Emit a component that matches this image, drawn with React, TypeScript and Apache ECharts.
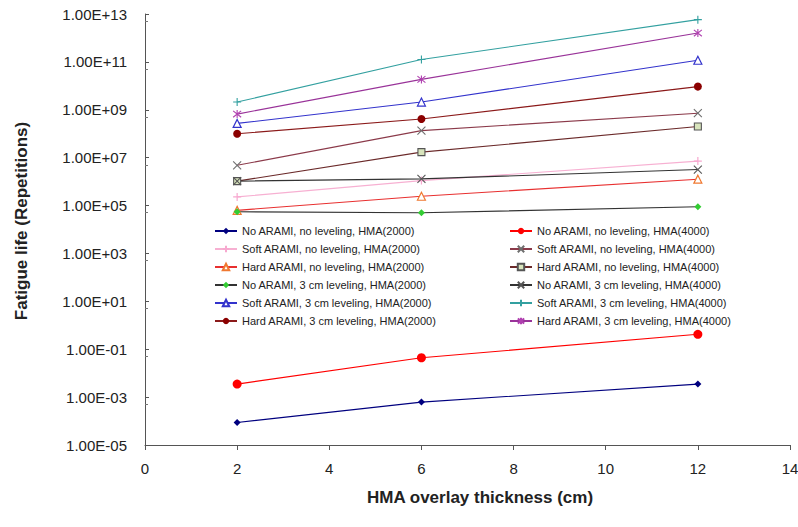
import React, { useEffect, useRef } from "react";
import * as echarts from "echarts";

// HMA overlay thickness (cm)
const xValues = [2, 6, 12];

// Fatigue life (repetitions) per series, read at x = 2, 6, 12
const noAramiNoLev2000 = [8.7e-5, 6.2e-4, 3.5e-3];
const noAramiNoLev4000 = [3.5e-3, 4.4e-2, 0.42];
const softAramiNoLev2000 = [2.3e5, 1.1e6, 7.2e6];
const softAramiNoLev4000 = [4.8e6, 1.35e8, 7.2e8];
const hardAramiNoLev2000 = [6.3e4, 2.45e5, 1.26e6];
const hardAramiNoLev4000 = [1.05e6, 1.7e7, 2.0e8];
const noArami3cm2000 = [5.5e4, 5.0e4, 8.9e4];
const noArami3cm4000 = [1.05e6, 1.3e6, 3.2e6];
const softArami3cm2000 = [2.7e8, 2.1e9, 1.17e11];
const softArami3cm4000 = [2.1e9, 1.26e11, 5.8e12];
const hardArami3cm2000 = [1.0e8, 4.1e8, 9.3e9];
const hardArami3cm4000 = [6.6e8, 1.86e10, 1.6e12];

const names = [
  "No ARAMI, no leveling, HMA(2000)",
  "No ARAMI, no leveling, HMA(4000)",
  "Soft ARAMI, no leveling, HMA(2000)",
  "Soft ARAMI, no leveling, HMA(4000)",
  "Hard ARAMI, no leveling, HMA(2000)",
  "Hard ARAMI, no leveling, HMA(4000)",
  "No ARAMI, 3 cm leveling, HMA(2000)",
  "No ARAMI, 3 cm leveling, HMA(4000)",
  "Soft ARAMI, 3 cm leveling, HMA(2000)",
  "Soft ARAMI, 3 cm leveling, HMA(4000)",
  "Hard ARAMI, 3 cm leveling, HMA(2000)",
  "Hard ARAMI, 3 cm leveling, HMA(4000)",
];

const yTickLabelFormat = (v: number) => {
  const e = Math.round(Math.log10(v));
  return "1.00E" + (e >= 0 ? "+" : "-") + String(Math.abs(e)).padStart(2, "0");
};

const X_PATH = "path://M0,0L10,10M10,0L0,10";
const PLUS_PATH = "path://M5,0L5,10M0,5L10,5";
const STAR_PATH = "path://M5,0L5,10M1,1L9,9M9,1L1,9";

type Spec = {
  values: number[];
  line: string;
  symbol: string;
  size: number;
  fill: string;
  border: string;
  bw: number;
};

const specs: Spec[] = [
  { values: noAramiNoLev2000, line: "#00007F", symbol: "diamond", size: 7, fill: "#00007F", border: "#00007F", bw: 0 },
  { values: noAramiNoLev4000, line: "#FF0000", symbol: "circle", size: 9, fill: "#FF0000", border: "#FF0000", bw: 0 },
  { values: softAramiNoLev2000, line: "#F7B0D2", symbol: PLUS_PATH, size: 8, fill: "#ffffff", border: "#F7A8CF", bw: 1.2 },
  { values: softAramiNoLev4000, line: "#8B3A4A", symbol: X_PATH, size: 8, fill: "#ffffff", border: "#6E6E6E", bw: 1.1 },
  { values: hardAramiNoLev2000, line: "#E83030", symbol: "triangle", size: 8, fill: "#ffffff", border: "#F07830", bw: 1.2 },
  { values: hardAramiNoLev4000, line: "#6B2A2A", symbol: "rect", size: 7, fill: "#D8E4BC", border: "#555555", bw: 1.1 },
  { values: noArami3cm2000, line: "#333333", symbol: "diamond", size: 7, fill: "#33CC33", border: "#33CC33", bw: 0 },
  { values: noArami3cm4000, line: "#333333", symbol: X_PATH, size: 8, fill: "#ffffff", border: "#555555", bw: 1.1 },
  { values: softArami3cm2000, line: "#3333CC", symbol: "triangle", size: 8, fill: "#ffffff", border: "#3333CC", bw: 1.2 },
  { values: softArami3cm4000, line: "#33A0A0", symbol: PLUS_PATH, size: 8, fill: "#ffffff", border: "#33A0A0", bw: 1.1 },
  { values: hardArami3cm2000, line: "#8B1A1A", symbol: "circle", size: 8, fill: "#8B0000", border: "#8B0000", bw: 0 },
  { values: hardArami3cm4000, line: "#993399", symbol: STAR_PATH, size: 8, fill: "#ffffff", border: "#B040B0", bw: 1.1 },
];

const FONT = "'Liberation Sans', Arial, sans-serif";

export default function App() {
  const ref = useRef<HTMLDivElement>(null);
  useEffect(() => {
    if (!ref.current) return;
    const chart = echarts.init(ref.current, null, { renderer: "svg" });
    const series = specs.map((s, i) => ({
      name: names[i],
      type: "line",
      data: xValues.map((x, j) => [x, s.values[j]]),
      symbol: s.symbol,
      symbolSize: s.size,
      showSymbol: true,
      lineStyle: { color: s.line, width: 1.1 },
      itemStyle: { color: s.fill, borderColor: s.border, borderWidth: s.bw },
      emphasis: { disabled: true },
      z: 2,
    }));
    const legendCommon = {
      orient: "vertical",
      top: 220,
      itemWidth: 22,
      itemHeight: 8,
      itemGap: 6,
      textStyle: { fontFamily: FONT, fontSize: 11, color: "#222", lineHeight: 12 },
      selectedMode: false,
    };
    chart.setOption({
      animation: false,
      backgroundColor: "#ffffff",
      grid: { left: 145, right: 8, top: 14, bottom: 82, containLabel: false, outerBoundsMode: "none" },
      legend: [
        { ...legendCommon, left: 209, data: names.filter((_, i) => i % 2 === 0) },
        { ...legendCommon, left: 504, data: names.filter((_, i) => i % 2 === 1) },
      ],
      xAxis: {
        type: "value",
        min: 0,
        max: 14,
        interval: 2,
        splitLine: { show: false },
        axisLine: { lineStyle: { color: "#555", width: 1 } },
        axisTick: { show: true, inside: false, length: 5, lineStyle: { color: "#555" } },
        axisLabel: { fontFamily: FONT, fontSize: 15, color: "#222", margin: 16 },
      },
      yAxis: {
        type: "log",
        logBase: 10,
        min: 1e-5,
        max: 1e13,
        interval: 2,
        splitNumber: 9,
        splitLine: { show: false },
        axisLine: { show: true, lineStyle: { color: "#555", width: 1 } },
        axisTick: { show: true, inside: true, length: 4, lineStyle: { color: "#555" } },
        minorTick: { show: true, splitNumber: 2, length: 3, lineStyle: { color: "#777" } },
        axisLabel: { fontFamily: FONT, fontSize: 15, color: "#222", margin: 18, formatter: yTickLabelFormat },
      },
      graphic: [
        {
          type: "text",
          x: 21,
          y: 221,
          rotation: Math.PI / 2,
          style: {
            text: "Fatigue life (Repetitions)",
            font: "bold 17px " + FONT,
            fill: "#222",
            align: "center",
            verticalAlign: "middle",
          },
        },
        {
          type: "text",
          x: 480,
          y: 497,
          style: {
            text: "HMA overlay thickness (cm)",
            font: "bold 17px " + FONT,
            fill: "#222",
            align: "center",
            verticalAlign: "middle",
          },
        },
      ],
      series,
    });
    return () => chart.dispose();
  }, []);
  return (
    <div
      ref={ref}
      style={{ position: "absolute", left: 0, top: 0, width: 798, height: 527, background: "#fff" }}
    />
  );
}
